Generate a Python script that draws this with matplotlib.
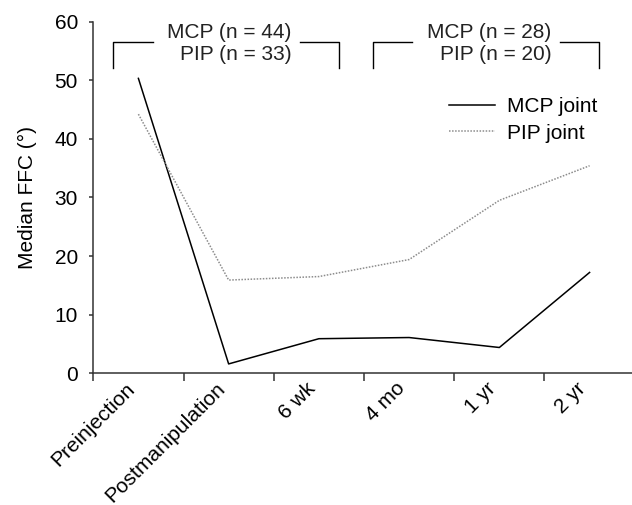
import matplotlib
matplotlib.use('Agg')
import matplotlib.pyplot as plt
import numpy as np

plt.rcParams['font.family'] = ['Liberation Sans', 'DejaVu Sans']

etapy = ['Preinjection', 'Postmanipulation', '6 wk', '4 mo', '1 yr', '2 yr']
mcp = [50.3, 1.6, 5.9, 6.1, 4.4, 17.2]
pip = [44.2, 15.9, 16.5, 19.4, 29.5, 35.4]

# grupy w nawiasach nad wykresem: (od, do, MCP n, PIP n)
grupy = [(-0.28, 2.22, 44, 33), (2.60, 5.10, 28, 20)]

szary = '#333333'
fs = 15

fig = plt.figure(figsize=(6.32, 5.05), dpi=100)
ax = fig.add_axes([0.1476, 0.2608, 1 - 0.1476, 0.6966])

x = np.arange(len(etapy))
ax.plot(x, mcp, color='black', linewidth=1.1, label='MCP joint')
ax.plot(x, pip, color='#8c8c8c', linewidth=1.1, linestyle=(0, (1, 1)), label='PIP joint')

ax.set_xlim(-0.5, 5.47)
ax.set_ylim(0, 60)
ax.set_yticks(range(0, 61, 10))
ax.set_xticks(x)
ax.set_xticklabels(etapy, rotation=45, ha='right', fontsize=fs)
ax.set_xticks(np.arange(-0.5, 5.0, 1), minor=True)
ax.tick_params(axis='x', which='major', length=0, pad=4)
ax.tick_params(axis='x', which='minor', length=6, width=1.1, color=szary, direction='out')
ax.tick_params(axis='y', length=3, width=1.1, color=szary, pad=8, labelsize=fs)
ax.set_ylabel('Median FFC (°)', fontsize=fs, labelpad=13)

for s in ['top', 'right']:
    ax.spines[s].set_visible(False)
for s in ['left', 'bottom']:
    ax.spines[s].set_color(szary)
    ax.spines[s].set_linewidth(1.1)

# nawiasy z liczebnosciami
for (a, b, n1, n2) in grupy:
    szer = b - a
    t1 = a + szer * 0.175
    t2 = b - szer * 0.17
    ax.plot([a, a, t1], [52, 56.5, 56.5], color='black', linewidth=1, clip_on=False)
    ax.plot([t2, b, b], [56.5, 56.5, 52], color='black', linewidth=1, clip_on=False)
    xr = t2 - 0.1
    ax.text(xr, 58.1, 'MCP (n = %d)' % n1, ha='right', va='center', fontsize=fs, color='#222222')
    ax.text(xr, 54.4, 'PIP (n = %d)' % n2, ha='right', va='center', fontsize=fs, color='#222222')

ax.legend(loc='upper right', bbox_to_anchor=(597 / 632, 1 - 97 / 505), bbox_transform=fig.transFigure,
          frameon=False, fontsize=fs, handlelength=2.2, handletextpad=0.55, labelspacing=0.37,
          borderpad=0, borderaxespad=0)

fig.savefig('out.png', dpi=100)
